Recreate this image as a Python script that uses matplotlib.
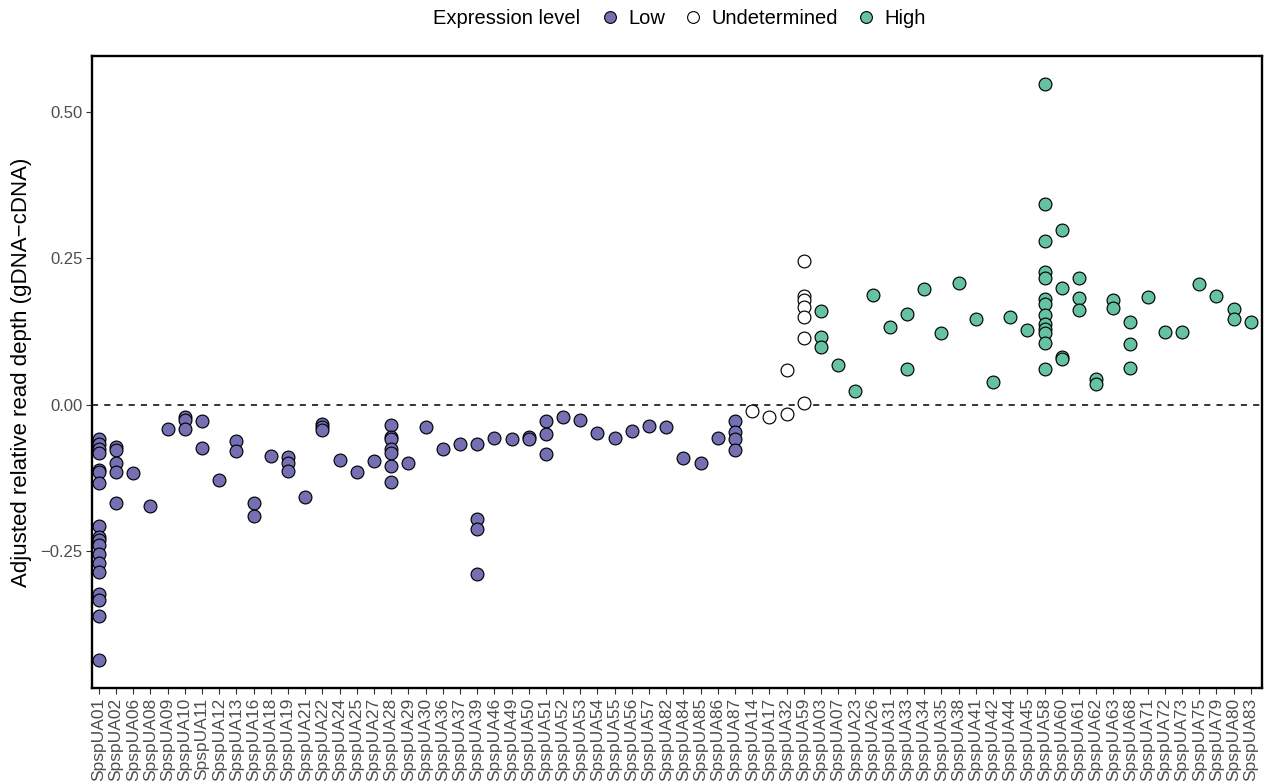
import matplotlib
matplotlib.use("Agg")
from matplotlib import pyplot as plt
from matplotlib.lines import Line2D

plt.rcParams['font.family'] = ['Liberation Sans', 'DejaVu Sans']

# genes grouped by expression level, in plotting order
low_genes = ["SpspUA01", "SpspUA02", "SpspUA06", "SpspUA08", "SpspUA09", "SpspUA10",
             "SpspUA11", "SpspUA12", "SpspUA13", "SpspUA16", "SpspUA18", "SpspUA19",
             "SpspUA21", "SpspUA22", "SpspUA24", "SpspUA25", "SpspUA27", "SpspUA28",
             "SpspUA29", "SpspUA30", "SpspUA36", "SpspUA37", "SpspUA39", "SpspUA46",
             "SpspUA49", "SpspUA50", "SpspUA51", "SpspUA52", "SpspUA53", "SpspUA54",
             "SpspUA55", "SpspUA56", "SpspUA57", "SpspUA82", "SpspUA84", "SpspUA85",
             "SpspUA86", "SpspUA87"]
low_depth = [
    [-0.058, -0.066, -0.075, -0.083, -0.111, -0.115, -0.133, -0.206, -0.226, -0.231,
     -0.239, -0.255, -0.269, -0.285, -0.323, -0.333, -0.360, -0.436],
    [-0.072, -0.077, -0.099, -0.115, -0.168],
    [-0.116],
    [-0.172],
    [-0.041],
    [-0.020, -0.026, -0.041],
    [-0.027, -0.074],
    [-0.128],
    [-0.061, -0.079],
    [-0.168, -0.190],
    [-0.087],
    [-0.089, -0.100, -0.113],
    [-0.158],
    [-0.032, -0.038, -0.043],
    [-0.094],
    [-0.114],
    [-0.096],
    [-0.035, -0.055, -0.058, -0.075, -0.082, -0.104, -0.132],
    [-0.099],
    [-0.038],
    [-0.075],
    [-0.066],
    [-0.066, -0.195, -0.211, -0.288],
    [-0.056],
    [-0.059],
    [-0.055, -0.059],
    [-0.028, -0.049, -0.084],
    [-0.021],
    [-0.026],
    [-0.048],
    [-0.056],
    [-0.045],
    [-0.036],
    [-0.037],
    [-0.090],
    [-0.099],
    [-0.057],
    [-0.028, -0.046, -0.058, -0.077],
]

undet_genes = ["SpspUA14", "SpspUA17", "SpspUA32", "SpspUA59"]
undet_depth = [
    [-0.011],
    [-0.021],
    [0.060, -0.015],
    [0.245, 0.186, 0.178, 0.167, 0.149, 0.114, 0.003],
]

high_genes = ["SpspUA03", "SpspUA07", "SpspUA23", "SpspUA26", "SpspUA31", "SpspUA33",
              "SpspUA34", "SpspUA35", "SpspUA38", "SpspUA41", "SpspUA42", "SpspUA44",
              "SpspUA45", "SpspUA58", "SpspUA60", "SpspUA61", "SpspUA62", "SpspUA63",
              "SpspUA68", "SpspUA71", "SpspUA72", "SpspUA73", "SpspUA75", "SpspUA79",
              "SpspUA80", "SpspUA83"]
high_depth = [
    [0.160, 0.115, 0.098],
    [0.068],
    [0.023],
    [0.188],
    [0.132],
    [0.155, 0.061],
    [0.197],
    [0.122],
    [0.207],
    [0.147],
    [0.039],
    [0.149],
    [0.127],
    [0.547, 0.342, 0.280, 0.227, 0.216, 0.180, 0.172, 0.153, 0.138, 0.130, 0.122, 0.105, 0.061],
    [0.299, 0.199, 0.082, 0.078],
    [0.216, 0.183, 0.162],
    [0.044, 0.036],
    [0.179, 0.166],
    [0.142, 0.103, 0.063],
    [0.184],
    [0.125],
    [0.124],
    [0.206],
    [0.186],
    [0.163, 0.146],
    [0.142],
]

categories = low_genes + undet_genes + high_genes
groups = [("Low", low_genes, low_depth, "#7570B3"),
          ("Undetermined", undet_genes, undet_depth, "white"),
          ("High", high_genes, high_depth, "#66C2A5")]

fig = plt.figure(figsize=(12.64, 7.82), dpi=100)
ax = fig.add_axes([92 / 1264, 1 - 688 / 782, 1170 / 1264, 632 / 782])

for label, genes, depth, color in groups:
    xs, ys = [], []
    for g, vals in zip(genes, depth):
        for v in vals:
            xs.append(categories.index(g))
            ys.append(v)
    ax.scatter(xs, ys, s=85, c=color, edgecolors="black", linewidths=0.85, zorder=3)

ax.axhline(0, color="black", linestyle=(0, (4, 4)), linewidth=1.1, zorder=2)

ax.set_xlim(-0.4, len(categories) - 0.35)
ax.set_ylim(-0.483, 0.595)
ax.set_xticks(range(len(categories)))
ax.set_xticklabels(categories, rotation=90, fontsize=12.5, color="#4D4D4D")
ax.set_yticks([-0.25, 0.0, 0.25, 0.5])
ax.set_yticklabels(["\u22120.25", "0.00", "0.25", "0.50"], fontsize=12, color="#4D4D4D")
ax.tick_params(length=4, width=0.8, color="#333333", pad=3)
ax.set_ylabel("Adjusted relative read depth (gDNA\u2212cDNA)", fontsize=16, labelpad=6)
for sp in ax.spines.values():
    sp.set_linewidth(1.7)
    sp.set_color("black")

# legend across the top
handles = [Line2D([], [], marker="o", linestyle="", markersize=8.5, markerfacecolor=c,
                  markeredgecolor="black", markeredgewidth=0.8)
           for _, _, _, c in groups]
fig.text(580 / 1264, 1 - 19 / 782, "Expression level", fontsize=14.5, ha="right", va="center")
fig.legend(handles, [g[0] for g in groups], ncol=3, frameon=False, fontsize=14.5,
           loc="center left", bbox_to_anchor=(588 / 1264, 1 - 19 / 782),
           handletextpad=0.3, columnspacing=0.8, handlelength=1.2, borderpad=0)

plt.savefig("out.png", dpi=100)
